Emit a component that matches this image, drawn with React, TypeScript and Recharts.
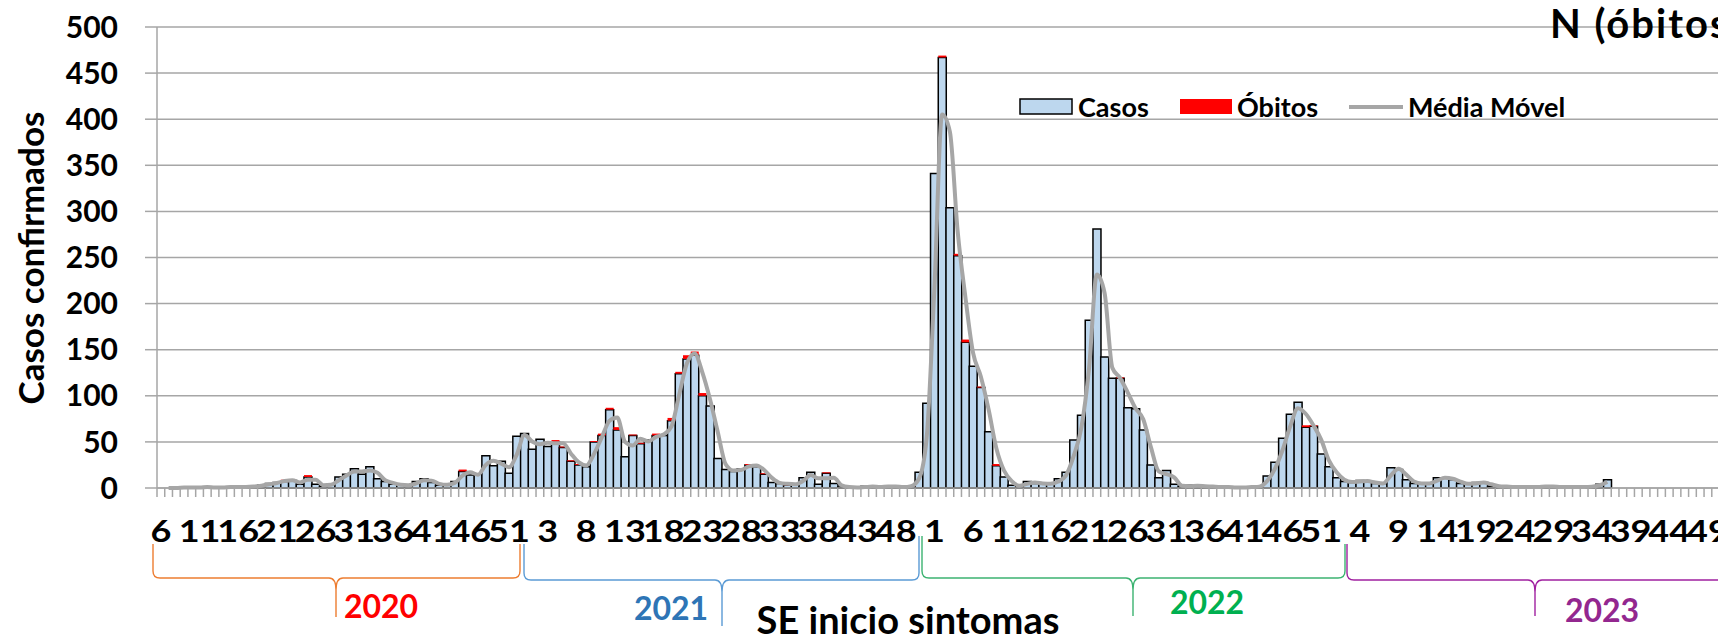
import React from "react";
import {
  ComposedChart,
  Bar,
  Line,
  XAxis,
  YAxis,
  CartesianGrid,
  Legend,
} from "recharts";

const FONT = "Lato, 'Open Sans', sans-serif";

// semanas epidemiológicas de cada ano
const YEARS = [2020, 2021, 2022, 2023];
const FIRST_WEEK = [6, 1, 1, 1];
const LAST_WEEK = [53, 52, 52, 52];

// casos confirmados por SE (2020: SE 6..53)
const casos2020 = [
  0, 0, 0, 1, 0, 0, 1, 0, 1, 1,
  1, 1, 2, 3, 5, 6, 7, 8, 4, 12,
  4, 2, 4, 12, 15, 21, 15, 23, 10, 7,
  4, 3, 3, 7, 10, 6, 3, 4, 7, 18,
  14, 15, 35, 24, 29, 16, 56, 59,
];
const casos2021 = [
  42, 53, 45, 50, 44, 29, 25, 23, 50, 57,
  85, 63, 34, 57, 48, 52, 57, 57, 73, 124,
  140, 144, 100, 89, 32, 20, 18, 21, 25, 23,
  15, 6, 5, 3, 4, 11, 17, 4, 16, 5,
  1, 1, 0, 2, 1, 1, 2, 1, 1, 2,
  17, 92,
];
const casos2022 = [
  341, 467, 304, 252, 158, 132, 109, 61, 24, 12,
  3, 2, 7, 5, 5, 4, 10, 17, 52, 79,
  182, 281, 142, 119, 119, 87, 86, 63, 25, 11,
  19, 4, 1, 3, 2, 2, 1, 1, 1, 0,
  1, 1, 2, 13, 28, 54, 80, 93, 66, 67,
  37, 23,
];
const casos2023 = [
  11, 7, 6, 8, 7, 5, 5, 22, 20, 9,
  5, 5, 5, 11, 11, 9, 5, 4, 6, 6,
  2, 2, 1, 1, 1, 1, 1, 2, 1, 1,
  1, 1, 1, 2, 4, 9,
];

// óbitos por SE
const obitos2020 = [
  0, 0, 0, 0, 0, 1, 0, 0, 0, 0,
  0, 0, 0, 0, 0, 0, 2, 0, 0, 2,
  0, 0, 1, 0, 0, 0, 0, 0, 0, 0,
  0, 0, 0, 0, 0, 0, 0, 0, 0, 2,
  0, 0, 0, 0, 0, 0, 0, 0,
];
const obitos2021 = [
  0, 0, 0, 2, 1, 1, 1, 0, 1, 2,
  2, 3, 0, 1, 1, 0, 2, 0, 3, 2,
  4, 4, 3, 0, 0, 0, 0, 0, 1, 0,
  1, 0, 0, 1, 0, 0, 0, 0, 1, 0,
  0, 0, 0, 0, 0, 0, 0, 0, 0, 1,
  0, 0,
];
const obitos2022 = [
  0, 2, 0, 2, 3, 0, 1, 0, 2, 0,
  0, 0, 0, 0, 0, 0, 0, 0, 0, 0,
  0, 0, 0, 0, 1, 0, 0, 0, 0, 0,
  0, 0, 0, 0, 0, 0, 0, 0, 0, 0,
  0, 0, 0, 0, 0, 0, 0, 0, 2, 1,
  0, 0,
];
const obitos2023 = [
  0, 0, 0, 0, 0, 0, 0, 0, 0, 0,
  0, 0, 0, 0, 0, 0, 0, 0, 0, 0,
  0, 0, 0, 0, 0, 0, 0, 0, 0, 0,
  0, 0, 0, 0, 0, 0,
];

const media2020 = [
  null, 0, 0, 0.5, 0.5, 0.5, 1, 0.5, 0.5, 1,
  1, 1, 1.5, 2.5, 4, 5.5, 7.5, 8.5, 6, 9,
  9, 3, 3.5, 8.5, 13.5, 18, 18, 19, 16.5, 8.5,
  5.5, 3.5, 3, 5, 8.5, 8, 4.5, 3.5, 5.5, 13.5,
  17, 14.5, 25, 29.5, 26.5, 22.5, 36, 57.5,
];
const media2021 = [
  50.5, 47.5, 49, 48.5, 48.5, 37.5, 28, 24.5, 37, 55,
  73, 76.5, 50, 46, 53.5, 50.5, 55.5, 58, 66.5, 101,
  135, 146, 125.5, 96, 60.5, 26, 19, 19.5, 23.5, 24.5,
  19.5, 11, 5.5, 4.5, 4, 7.5, 14, 10.5, 10.5, 11,
  3, 1, 0.5, 1, 1.5, 1, 1.5, 1.5, 1, 2,
  10, 54.5,
];
const media2022 = [
  216.5, 405, 386.5, 279, 207.5, 146.5, 121, 85.5, 43.5, 19,
  7.5, 2.5, 4.5, 6, 5, 4.5, 7, 13.5, 34.5, 65.5,
  130.5, 231.5, 211.5, 130.5, 119.5, 103.5, 86.5, 74.5, 44, 18,
  15, 11.5, 2.5, 2, 2.5, 2, 1.5, 1, 1, 0.5,
  0.5, 1, 1.5, 7.5, 20.5, 41, 67, 86.5, 80.5, 68,
  52.5, 30,
];
const media2023 = [
  17, 9, 6.5, 7, 7.5, 6, 5, 13.5, 21, 14.5,
  7, 5, 5, 8, 11, 10, 7, 4.5, 5, 6,
  4, 2, 1.5, 1, 1, 1, 1, 1.5, 1.5, 1,
  1, 1, 1, 1.5, 3, 6.5,
];

const Y_TICKS = [0, 50, 100, 150, 200, 250, 300, 350, 400, 450, 500];

const casosByYear = [casos2020, casos2021, casos2022, casos2023];
const obitosByYear = [obitos2020, obitos2021, obitos2022, obitos2023];
const mediaByYear = [media2020, media2021, media2022, media2023];

type Row = {
  key: string;
  semana: number;
  casos: number | null;
  obitos: number | null;
  media: number | null;
};

const data: Row[] = [];
YEARS.forEach((year, y) => {
  for (let w = FIRST_WEEK[y]; w <= LAST_WEEK[y]; w++) {
    const k = w - FIRST_WEEK[y];
    data.push({
      key: `${year}-${w}`,
      semana: w,
      casos: casosByYear[y][k] ?? null,
      obitos: obitosByYear[y][k] ?? null,
      media: mediaByYear[y][k] ?? null,
    });
  }
});

const CHART_W = 1760;
const CHART_H = 634;
const Y_AXIS_W = 157;
const MARGIN_R = 25;
const HALF_BAND = (CHART_W - Y_AXIS_W - MARGIN_R) / data.length / 2;
const GRID = "#A6A6A6";

const renderWeekTick = (props: any) => {
  const { x, y, payload } = props;
  const i = props.index ?? payload.index ?? 0;
  const week = String(payload.value).split("-")[1];
  return (
    <g>
      <line
        x1={x - HALF_BAND}
        x2={x - HALF_BAND}
        y1={y}
        y2={y + 9}
        stroke={GRID}
        strokeWidth={1.5}
      />
      {i % 5 === 0 && (
        <text
          transform={`translate(${x} ${y + 54}) scale(1.2 1)`}
          textAnchor="middle"
          fontFamily={FONT}
          fontWeight={700}
          fontSize={30}
          fill="#000"
        >
          {week}
        </text>
      )}
    </g>
  );
};

const legendText = {
  fontFamily: FONT,
  fontWeight: 700,
  fontSize: 27,
  fill: "#000",
};

const renderLegend = () => (
  <svg width={560} height={40} style={{ display: "block" }}>
    <rect x={1} y={9} width={52} height={15} fill="#BDD7EE" stroke="#000" strokeWidth={1.5} />
    <text x={59} y={27} {...legendText}>Casos</text>
    <rect x={161} y={9} width={52} height={15} fill="#FF0000" />
    <text x={218} y={27} {...legendText}>Óbitos</text>
    <line x1={330} x2={384} y1={17} y2={17} stroke={GRID} strokeWidth={4} />
    <text x={389} y={27} {...legendText}>Média Móvel</text>
  </svg>
);

// chaves sob o eixo x, uma por ano
const braces = [
  { xl: 153, xr: 520, xc: 336, ytl: 544, ytr: 544, yh: 578, yb: 617, color: "#ED7D31" },
  { xl: 524, xr: 919, xc: 722, ytl: 544, ytr: 536, yh: 580, yb: 626, color: "#5B9BD5" },
  { xl: 922, xr: 1345, xc: 1133, ytl: 536, ytr: 544, yh: 578, yb: 616, color: "#3CB371" },
  { xl: 1347, xr: 1780, xc: 1535, ytl: 544, ytr: 544, yh: 580, yb: 616, color: "#A021A0" },
];

const yearLabels = [
  { text: "2020", x: 381, y: 618, color: "#FF0000" },
  { text: "2021", x: 671, y: 620, color: "#2E75B6" },
  { text: "2022", x: 1207, y: 614, color: "#00B050" },
  { text: "2023", x: 1602, y: 622, color: "#93278F" },
];

const bracePath = (b: (typeof braces)[number]) => {
  const r = 7;
  return [
    `M ${b.xl} ${b.ytl}`,
    `L ${b.xl} ${b.yh - r}`,
    `Q ${b.xl} ${b.yh} ${b.xl + r} ${b.yh}`,
    `L ${b.xc - r} ${b.yh}`,
    `Q ${b.xc} ${b.yh} ${b.xc} ${b.yh + 12}`,
    `L ${b.xc} ${b.yb}`,
    `M ${b.xc} ${b.yh + 12}`,
    `Q ${b.xc} ${b.yh} ${b.xc + r} ${b.yh}`,
    `L ${b.xr - r} ${b.yh}`,
    `Q ${b.xr} ${b.yh} ${b.xr} ${b.yh - r}`,
    `L ${b.xr} ${b.ytr}`,
  ].join(" ");
};

export default function App() {
  return (
    <div
      style={{
        position: "absolute",
        left: 0,
        top: 0,
        width: 1718,
        height: 634,
        overflow: "hidden",
        background: "#fff",
        fontFamily: FONT,
      }}
    >
      <ComposedChart
        width={CHART_W}
        height={CHART_H}
        data={data}
        margin={{ top: 27, right: MARGIN_R, bottom: 0, left: 0 }}
        barCategoryGap={0}
        barGap={0}
      >
        <CartesianGrid vertical={false} stroke={GRID} strokeWidth={1.5} />
        <XAxis
          dataKey="key"
          interval={0}
          height={146}
          tickSize={0}
          tickMargin={0}
          tickLine={false}
          axisLine={{ stroke: GRID, strokeWidth: 1.5 }}
          tick={renderWeekTick}
        />
        <YAxis
          domain={[0, 500]}
          ticks={Y_TICKS}
          interval={0}
          width={Y_AXIS_W}
          tickSize={12}
          tickMargin={27}
          axisLine={{ stroke: GRID, strokeWidth: 1.5 }}
          tickLine={{ stroke: GRID, strokeWidth: 1.5 }}
          tick={{ fill: "#000", fontSize: 30, fontWeight: 700, fontFamily: FONT }}
        />
        <Bar
          dataKey="casos"
          name="Casos"
          stackId="s"
          fill="#BDD7EE"
          stroke="#000"
          strokeWidth={1.5}
          isAnimationActive={false}
        />
        <Bar
          dataKey="obitos"
          name="Óbitos"
          stackId="s"
          fill="#FF0000"
          isAnimationActive={false}
        />
        <Line
          type="monotone"
          dataKey="media"
          name="Média Móvel"
          stroke={GRID}
          strokeWidth={4}
          dot={false}
          activeDot={false}
          isAnimationActive={false}
        />
        <Legend
          layout="horizontal"
          verticalAlign="middle"
          align="center"
          wrapperStyle={{ top: 90, left: 1019, width: 560, height: 40 }}
          content={renderLegend}
        />
      </ComposedChart>

      <svg
        width={1718}
        height={634}
        style={{ position: "absolute", left: 0, top: 0, pointerEvents: "none" }}
      >
        <text
          transform="translate(44 258) rotate(-90)"
          textAnchor="middle"
          fontFamily={FONT}
          fontWeight={700}
          fontSize={35}
          fill="#000"
        >
          Casos confirmados
        </text>
        <text
          x={1550}
          y={38}
          fontFamily={FONT}
          fontWeight={700}
          fontSize={40}
          letterSpacing={2}
          fill="#000"
        >
          N (óbitos)
        </text>
        {braces.map((b, i) => (
          <path key={i} d={bracePath(b)} fill="none" stroke={b.color} strokeWidth={1.4} />
        ))}
        {yearLabels.map((l) => (
          <text
            key={l.text}
            x={l.x}
            y={l.y}
            textAnchor="middle"
            fontFamily={FONT}
            fontWeight={700}
            fontSize={32}
            fill={l.color}
          >
            {l.text}
          </text>
        ))}
        <text
          x={908}
          y={634}
          textAnchor="middle"
          fontFamily={FONT}
          fontWeight={700}
          fontSize={38}
          fill="#000"
        >
          SE inicio sintomas
        </text>
      </svg>
    </div>
  );
}
